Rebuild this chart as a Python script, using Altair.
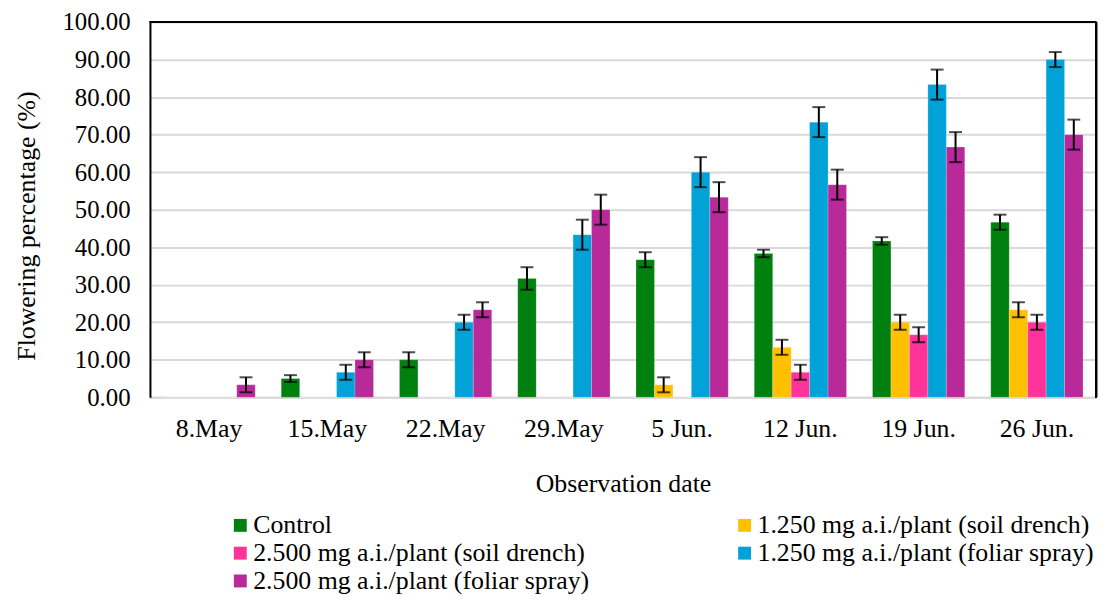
import altair as alt
import pandas as pd

dates = ["8.May", "15.May", "22.May", "29.May", "5 Jun.", "12 Jun.", "19 Jun.", "26 Jun."]
series = [
    "Control",
    "1.250 mg a.i./plant (soil drench)",
    "2.500 mg a.i./plant (soil drench)",
    "1.250 mg a.i./plant (foliar spray)",
    "2.500 mg a.i./plant (foliar spray)",
]
colors = ["#00800F", "#FFC000", "#FF3399", "#00A2D8", "#B8299A"]
# legend reading order (column-major fill gives the reference's row layout)
legend_order = [series[0], series[2], series[4], series[1], series[3]]
legend_colors = [colors[0], colors[2], colors[4], colors[1], colors[3]]

control = [0, 5.00, 10.00, 31.67, 36.67, 38.33, 41.67, 46.67]
soil_125 = [0, 0, 0, 0, 3.33, 13.33, 20.00, 23.33]
soil_250 = [0, 0, 0, 0, 0, 6.67, 16.67, 20.00]
foliar_125 = [0, 6.67, 20.00, 43.33, 60.00, 73.33, 83.33, 90.00]
foliar_250 = [3.33, 10.00, 23.33, 50.00, 53.33, 56.67, 66.67, 70.00]

err_control = [0, 0.9, 2.0, 3.0, 2.0, 1.0, 1.0, 2.0]
err_soil_125 = [0, 0, 0, 0, 2.0, 2.0, 2.0, 2.0]
err_soil_250 = [0, 0, 0, 0, 0, 2.0, 2.0, 2.0]
err_foliar_125 = [0, 2.0, 2.0, 4.0, 4.0, 4.0, 4.0, 2.0]
err_foliar_250 = [2.0, 2.0, 2.0, 4.0, 4.0, 4.0, 4.0, 4.0]

y_ticks = [0, 10, 20, 30, 40, 50, 60, 70, 80, 90, 100]

vals = [control, soil_125, soil_250, foliar_125, foliar_250]
errs = [err_control, err_soil_125, err_soil_250, err_foliar_125, err_foliar_250]

rows = []
for s, v, e in zip(series, vals, errs):
    for d, vv, ee in zip(dates, v, e):
        rows.append({"date": d, "series": s, "value": vv, "err": ee,
                     "lo": vv - ee, "hi": vv + ee})
df = pd.DataFrame(rows)

FONT = "Liberation Serif"

x_axis = alt.Axis(title="Observation date", labelAngle=0, labelFontSize=26,
                  titleFontSize=26, labelPadding=18, titlePadding=30,
                  ticks=False, domainColor="#d9d9d9", domainWidth=2,
                  labelColor="black", titleColor="black",
                  labelFont=FONT, titleFont=FONT, titleFontWeight="normal")
y_axis = alt.Axis(title="Flowering percentage (%)", format=".2f",
                  values=y_ticks, tickCount=11, labelOverlap=False,
                  labelFontSize=25, titleFontSize=26, labelPadding=20,
                  titlePadding=23, titleY=205, ticks=False, domainColor="black",
                  domainWidth=2, gridColor="#d9d9d9", gridWidth=2,
                  labelColor="black", titleColor="black",
                  labelFont=FONT, titleFont=FONT, titleFontWeight="normal")
y_scale = alt.Scale(domain=[0, 100])

x = alt.X("date:N", sort=dates,
          scale=alt.Scale(paddingInner=0.22, paddingOuter=0.11), axis=x_axis)
xo = alt.XOffset("series:N", sort=series, scale=alt.Scale(paddingInner=0, paddingOuter=0))

bars = alt.Chart(df).mark_bar(stroke="white", strokeOpacity=0.4, strokeWidth=0.5).encode(
    x=x,
    xOffset=xo,
    y=alt.Y("value:Q", scale=y_scale, axis=y_axis),
    color=alt.Color("series:N",
                    scale=alt.Scale(domain=legend_order, range=legend_colors),
                    legend=alt.Legend(title=None, orient="none", legendX=78, legendY=494,
                                      padding=0, offset=0,
                                      columns=2, columnPadding=143, rowPadding=2,
                                      symbolType="square", symbolSize=169,
                                      symbolStrokeWidth=0, labelFontSize=26,
                                      labelFont=FONT, labelColor="black",
                                      labelLimit=600, symbolOffset=0, labelOffset=0)),
)

edf = df[df["err"] > 0]
rules = alt.Chart(edf).mark_rule(color="black", strokeWidth=2).encode(
    x=x, xOffset=xo,
    y=alt.Y("lo:Q", scale=y_scale, axis=y_axis), y2="hi:Q")
caps_lo = alt.Chart(edf).mark_tick(color="black", thickness=2, size=13).encode(
    x=x, xOffset=xo, y=alt.Y("lo:Q", scale=y_scale, axis=y_axis))
caps_hi = alt.Chart(edf).mark_tick(color="black", thickness=2, size=13).encode(
    x=x, xOffset=xo, y=alt.Y("hi:Q", scale=y_scale, axis=y_axis))

frame_top = alt.Chart(edf).mark_rule(color="black", strokeWidth=2).encode(y=alt.value(0))
frame_right = alt.Chart(edf).mark_rule(color="black", strokeWidth=2).encode(
    x=alt.value(953), y=alt.value(0), y2=alt.value(378))

chart = alt.layer(bars, rules, caps_lo, caps_hi, frame_top, frame_right).properties(
    width=953, height=378,
    autosize=alt.AutoSizeParams(type="none"),
    padding={"left": 143, "top": 12, "right": 4, "bottom": 198},
).configure_view(stroke=None).configure(font=FONT)

chart.save("out.html", embed_options={"renderer": "svg", "actions": False})
